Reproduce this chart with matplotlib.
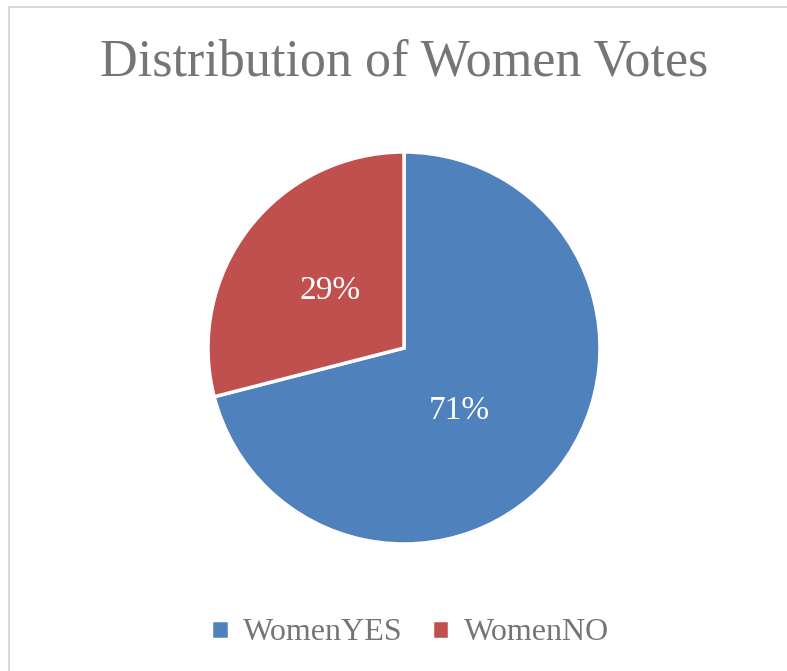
import matplotlib
matplotlib.use("Agg")
import matplotlib.pyplot as plt
from matplotlib.lines import Line2D

labels = ["WomenYES", "WomenNO"]
shares = [71, 29]
colors = ["#4f81bd", "#c0504d"]

W, H = 787, 671
fig = plt.figure(figsize=(W / 100, H / 100), dpi=100)

# chart area frame (only top and left edges show)
fig.add_artist(Line2D([9 / W, 9 / W], [0, 1 - 7 / H], color="#d9d9d9", lw=1.5))
fig.add_artist(Line2D([9 / W, 1], [1 - 7 / H, 1 - 7 / H], color="#d9d9d9", lw=1.5))

# pie: center (404, 348), radius ~196 px
r = 196
cx, cy = 404, 348
ax = fig.add_axes([(cx - r) / W, 1 - (cy + r) / H, 2 * r / W, 2 * r / H])
wedges, texts, autotexts = ax.pie(
    shares, colors=colors, startangle=90, counterclock=False,
    autopct="%d%%", pctdistance=0.48,
    wedgeprops=dict(edgecolor="white", linewidth=2.5),
    textprops=dict(color="white", fontsize=24, family="Liberation Serif"),
)
# data label of the big slice sits a bit lower, like the spreadsheet default
autotexts[0].set_position((0.28, -0.32))
ax.set_xlim(-1.0, 1.0)
ax.set_ylim(-1.0, 1.0)
ax.set_aspect("equal")
ax.axis("off")

fig.text(404 / W, 1 - 62 / H, "Distribution of Women Votes", ha="center", va="center",
         fontsize=37.5, color="#757575", family="Liberation Serif")

fig.legend(wedges, labels, loc="center", bbox_to_anchor=(410 / W, 1 - 633 / H),
           ncol=2, frameon=False, handlelength=0.55, handleheight=0.55,
           handletextpad=0.45, columnspacing=0.9,
           prop=dict(family="Liberation Serif", size=23), labelcolor="#757575")

fig.savefig("out.png", dpi=100, facecolor="white")
